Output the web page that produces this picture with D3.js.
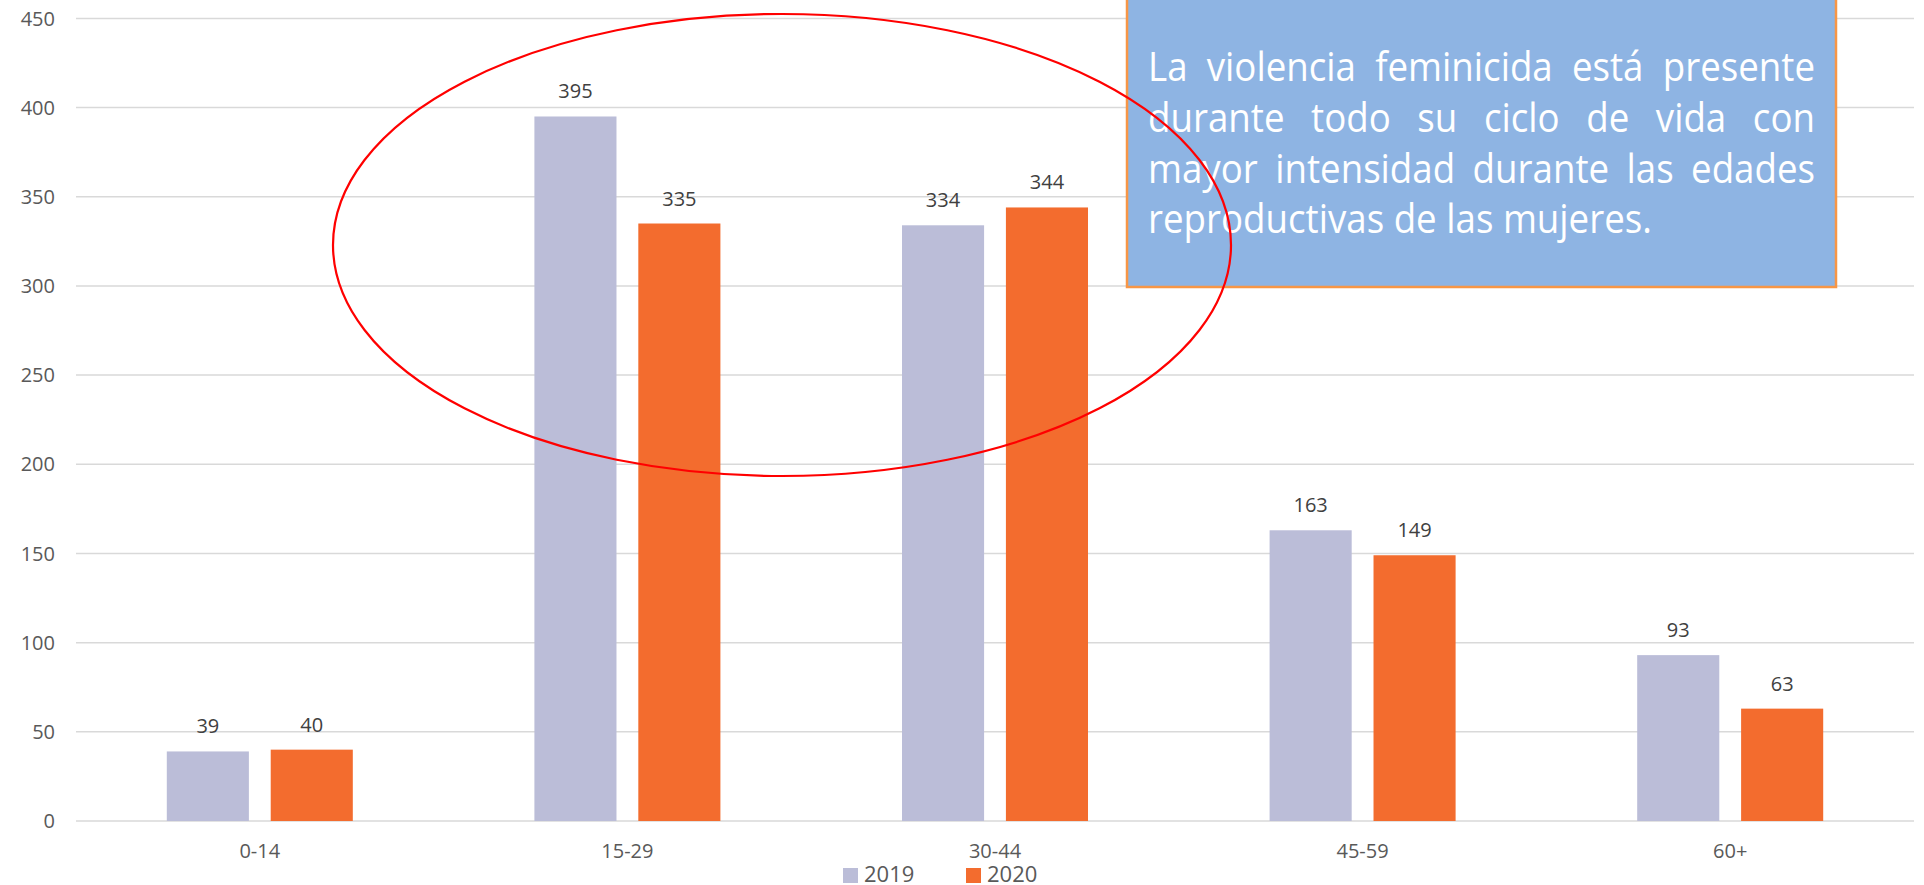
<!DOCTYPE html>
<html>
<head>
<meta charset="utf-8">
<script src="https://cdn.jsdelivr.net/npm/d3@7.9.0/dist/d3.min.js"></script>
<style>
  html, body { margin: 0; padding: 0; background: #fff; overflow: hidden; }
  svg { display: block; font-family: "Open Sans", sans-serif; }
</style>
</head>
<body>
<svg id="chart" width="1924" height="885"></svg>
<script>
// data
const ageGroups = ["0-14", "15-29", "30-44", "45-59", "60+"];
const years = ["2019", "2020"];
const values2019 = [39, 395, 334, 163, 93];
const values2020 = [40, 335, 344, 149, 63];
const yTicks = [0, 50, 100, 150, 200, 250, 300, 350, 400, 450];
const noteLines = [
  "La violencia feminicida está presente",
  "durante todo su ciclo de vida con",
  "mayor intensidad durante las edades",
  "reproductivas de las mujeres."
];

const colors = { "2019": "#BBBDD8", "2020": "#F36C2E" };

const svg = d3.select("#chart");

// scales
const x0 = d3.scaleBand().domain(ageGroups).range([76, 1914])
  .paddingInner(0.494).paddingOuter(0.247);
const x1 = d3.scaleBand().domain(years).range([0, x0.bandwidth()])
  .paddingInner(0.21);
const y = d3.scaleLinear().domain([0, 450]).range([821, 18.4]);

// gridlines
svg.append("g").selectAll("line")
  .data(yTicks)
  .join("line")
  .attr("x1", 76).attr("x2", 1914)
  .attr("y1", d => y(d)).attr("y2", d => y(d))
  .attr("stroke", "#D9D9D9").attr("stroke-width", 1.5);

// y tick labels
svg.append("g").selectAll("text")
  .data(yTicks)
  .join("text")
  .attr("x", 55).attr("y", d => y(d))
  .attr("dy", "0.36em")
  .attr("text-anchor", "end")
  .attr("font-size", 20).attr("fill", "#595959")
  .text(d => d);

// bars
const rows = ageGroups.map((g, i) => ({
  group: g,
  vals: [{ year: "2019", v: values2019[i] }, { year: "2020", v: values2020[i] }]
}));

const groups = svg.append("g").selectAll("g")
  .data(rows)
  .join("g")
  .attr("transform", d => `translate(${x0(d.group)},0)`);

groups.selectAll("rect")
  .data(d => d.vals)
  .join("rect")
  .attr("x", d => x1(d.year))
  .attr("width", x1.bandwidth())
  .attr("y", d => y(d.v))
  .attr("height", d => y(0) - y(d.v))
  .attr("fill", d => colors[d.year]);

groups.selectAll("text")
  .data(d => d.vals)
  .join("text")
  .attr("x", d => x1(d.year) + x1.bandwidth() / 2)
  .attr("y", d => y(d.v) - 18)
  .attr("text-anchor", "middle")
  .attr("font-size", 20).attr("fill", "#404040")
  .text(d => d.v);

// x labels
svg.append("g").selectAll("text")
  .data(ageGroups)
  .join("text")
  .attr("x", d => x0(d) + x0.bandwidth() / 2)
  .attr("y", 858)
  .attr("text-anchor", "middle")
  .attr("font-size", 20).attr("fill", "#595959")
  .text(d => d);

// legend
const legend = svg.append("g");
const legendX = { "2019": 843, "2020": 966 };
years.forEach(yr => {
  legend.append("rect")
    .attr("x", legendX[yr]).attr("y", 868)
    .attr("width", 15).attr("height", 15)
    .attr("fill", colors[yr]);
  legend.append("text")
    .attr("x", legendX[yr] + 21).attr("y", 882)
    .attr("font-size", 22).attr("fill", "#595959")
    .text(yr);
});

// annotation box
svg.append("rect")
  .attr("x", 1127).attr("y", -5)
  .attr("width", 709).attr("height", 292)
  .attr("fill", "#8EB4E3")
  .attr("stroke", "#F79646").attr("stroke-width", 2.5);

const noteG = svg.append("g");
const fontSize = 40, lineW = 667, left = 1148;
const baselines = [81, 132, 183, 233];

// measure helper
const probe = noteG.append("text").attr("font-size", fontSize).attr("visibility", "hidden");
function measure(s) { probe.text(s); return probe.node().getComputedTextLength(); }

const lastNatural = measure(noteLines[noteLines.length - 1]);
const sx = Math.min(1, 504 / lastNatural);
probe.remove();

const inner = noteG.append("g")
  .attr("transform", `translate(${left},0) scale(${sx},1)`);
const probe2 = inner.append("text").attr("font-size", fontSize).attr("visibility", "hidden");
function measure2(s) { probe2.text(s); return probe2.node().getComputedTextLength(); }

noteLines.forEach((line, li) => {
  const words = line.split(" ");
  const t = inner.append("text")
    .attr("font-size", fontSize).attr("fill", "#fff")
    .attr("y", baselines[li]);
  if (li === noteLines.length - 1) {
    t.attr("x", 0).text(line);
    return;
  }
  const widths = words.map(measure2);
  const total = d3.sum(widths);
  const gap = (lineW / sx - total) / (words.length - 1);
  let cx = 0;
  words.forEach((w, i) => {
    t.append("tspan").attr("x", cx).text(w);
    cx += widths[i] + gap;
  });
});
probe2.remove();

// red ellipse highlight
svg.append("ellipse")
  .attr("cx", 782).attr("cy", 245)
  .attr("rx", 449).attr("ry", 231)
  .attr("fill", "none")
  .attr("stroke", "#FF0000").attr("stroke-width", 2.2);
</script>
</body>
</html>
